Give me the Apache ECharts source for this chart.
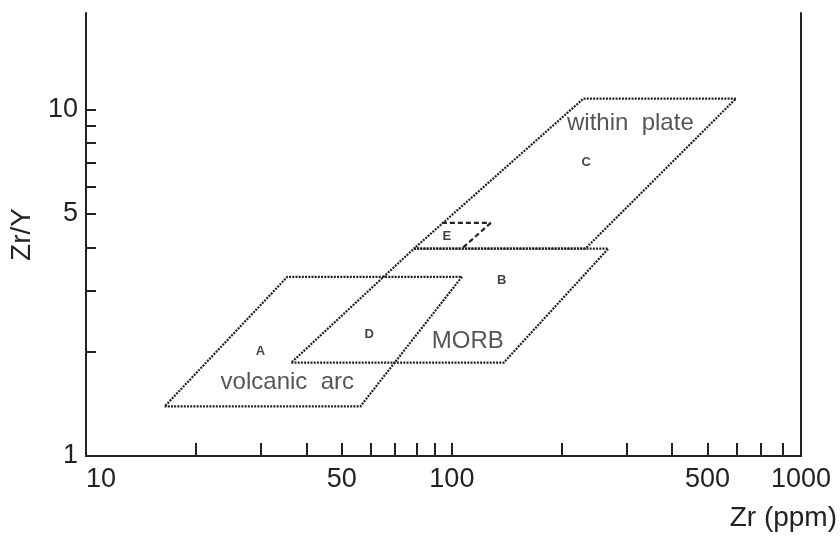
<!DOCTYPE html>
<html><head><meta charset="utf-8">
<script src="https://cdn.jsdelivr.net/npm/echarts@6/dist/echarts.min.js"></script>
<style>html,body{margin:0;padding:0;background:#fff}#c{width:840px;height:536px}</style>
</head><body><div id="c"></div>
<script>
// Axis ticks and labels (as drawn in the reference)
const xTicks = [10,20,30,40,50,60,70,80,90,100,200,300,400,500,600,700,800,900];
const xLabelValues = [10,50,100,500,900];
const xLabelTexts = ['10','50','100','500','1000'];
const yTicks = [1,2,3,4,5,6,7,8,9,10];
const yLabelValues = [1,5,10];

// Field outlines: [Zr (ppm), Zr/Y]
const fieldA = [[16.4,1.39],[56.2,1.39],[106.5,3.29],[35.5,3.29],[16.4,1.39]];
const fieldMORB = [[36.4,1.86],[138.6,1.86],[267.8,3.97],[78.8,3.97],[36.4,1.86]];
const fieldC = [[78.8,3.97],[231.8,3.97],[597.8,10.76],[229,10.76],[78.8,3.97]];
const fieldETop = [[93.9,4.71],[127.8,4.71]];
const fieldEDiag = [[127.8,4.71],[106.5,3.97]];

// Field letters and names
const letters = [['A',30.0,2.0],['D',59.4,2.25],['B',136.8,3.21],['C',233,7.03],['E',96.9,4.30]];
const fieldNames = [['within  plate',307.5,9.11],['MORB',110.5,2.14],['volcanic  arc',35.5,1.626]];

const ink = '#222';
const font = 'Liberation Sans, Arial, Helvetica, sans-serif';
const dotted = {color: ink, width: 2.2, type: [2, 1.2]};
const dashed = {color: ink, width: 2.2, type: [5, 3]};

function lineSeries(data, style) {
  return {type: 'line', data: data, symbol: 'none', silent: true, lineStyle: style, animation: false, z: 3};
}

const chart = echarts.init(document.getElementById('c'), null, {renderer: 'canvas'});
chart.setOption({
  animation: false,
  backgroundColor: '#fff',
  grid: {left: 86, right: 37, top: 13, bottom: 80, containLabel: false},
  xAxis: {
    type: 'log', logBase: 10, min: 10, max: 900,
    name: 'Zr (ppm)', nameLocation: 'end', nameGap: 36,
    nameTextStyle: {fontFamily: font, fontSize: 28, color: ink, align: 'right', verticalAlign: 'top', padding: [48,0,0,0]},
    axisLine: {onZero: false, lineStyle: {color: ink, width: 2}},
    axisTick: {inside: true, length: 13, lineStyle: {color: ink, width: 2}, customValues: xTicks},
    axisLabel: {fontFamily: font, fontSize: 27, color: ink, margin: 10, customValues: xLabelValues,
      alignMinLabel: 'left',
      formatter: function (v) { const i = xLabelValues.indexOf(Math.round(v)); return i >= 0 ? xLabelTexts[i] : ''; }},
    splitLine: {show: false}, minorTick: {show: false}
  },
  yAxis: [{
    type: 'log', logBase: 10, min: 1, max: 19,
    name: 'Zr/Y', nameLocation: 'middle', nameRotate: 90, nameGap: 50, nameMoveOverlap: false,
    nameTextStyle: {fontFamily: font, fontSize: 28, color: ink},
    axisLine: {onZero: false, lineStyle: {color: ink, width: 2}},
    axisTick: {inside: true, length: 10, lineStyle: {color: ink, width: 2}, customValues: yTicks},
    axisLabel: {fontFamily: font, fontSize: 27, color: ink, margin: 8, customValues: yLabelValues},
    splitLine: {show: false}, minorTick: {show: false}
  }, {
    type: 'log', logBase: 10, min: 1, max: 19, position: 'right',
    axisLine: {show: true, onZero: false, lineStyle: {color: ink, width: 2}},
    axisTick: {show: false}, axisLabel: {show: false}, splitLine: {show: false}
  }],
  series: [
    lineSeries(fieldA, dotted),
    lineSeries(fieldMORB, dotted),
    lineSeries(fieldC, dotted),
    lineSeries(fieldETop, dashed),
    lineSeries(fieldEDiag, dashed),
    {
      type: 'scatter', silent: true, symbolSize: 1, itemStyle: {color: 'rgba(0,0,0,0)'},
      data: letters.map(d => ({value: [d[1], d[2]], name: d[0]})),
      label: {show: true, position: 'inside', formatter: p => p.name, fontFamily: font, fontSize: 13, fontWeight: 'bold', color: '#111'}
    },
    {
      type: 'scatter', silent: true, symbolSize: 1, itemStyle: {color: 'rgba(0,0,0,0)'},
      data: fieldNames.map(d => ({value: [d[1], d[2]], name: d[0]})),
      label: {show: true, position: 'inside', formatter: p => p.name, fontFamily: font, fontSize: 24, color: '#2a2a2a'}
    }
  ]
});
</script></body></html>
